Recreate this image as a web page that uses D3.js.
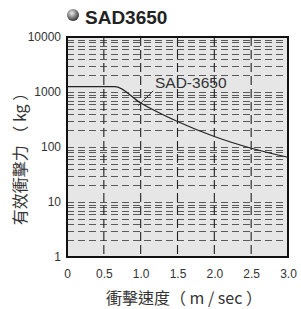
<!DOCTYPE html>
<html>
<head>
<meta charset="utf-8">
<script src="https://cdn.jsdelivr.net/npm/d3@7"></script>
<style>
  body { margin: 0; background: #fff; }
  text { font-family: "Liberation Sans", Arial, sans-serif; }
</style>
</head>
<body>
<div id="chart"></div>
<script>
// values
let speeds = [0, 0.65, 1.0, 1.5, 2.0, 2.5, 3.0];
let forces = [1250, 1250, 630, 290, 155, 95, 65];
let xTicks = [0, 0.5, 1.0, 1.5, 2.0, 2.5, 3.0];
let yTicks = [1, 10, 100, 1000, 10000];
let seriesName = "SAD-3650";
let title = "SAD3650";

let w = 301, h = 309;
let pLeft = 67, pRight = 288, pTop = 37, pBottom = 257;

let svg = d3.select("#chart")
    .append("svg")
    .attr("width", w)
    .attr("height", h);

let x = d3.scaleLinear().domain([0, 3]).range([pLeft, pRight]);
let y = d3.scaleLog().domain([1, 10000]).range([pBottom, pTop]);

// plot background
svg.append("rect")
    .attr("x", pLeft).attr("y", pTop)
    .attr("width", pRight - pLeft).attr("height", pBottom - pTop)
    .style("fill", "#e6e6e6");

// horizontal grid: every 1..9 in each decade
let minor = [];
for (let d = 1; d < 10000; d *= 10) {
    for (let k = 1; k < 10; k++) {
        if (d * k > 1) minor.push(d * k);
    }
}
svg.append("g").selectAll("line")
    .data(minor)
    .enter()
    .append("line")
    .attr("x1", pLeft).attr("x2", pRight)
    .attr("y1", function(d){ return Math.round(y(d)) + 0.5; })
    .attr("y2", function(d){ return Math.round(y(d)) + 0.5; })
    .style("stroke", "#5a5a5a")
    .style("stroke-width", 1)
    .style("stroke-dasharray", "7,4");

// vertical grid
svg.append("g").selectAll("line")
    .data(xTicks.slice(1, -1))
    .enter()
    .append("line")
    .attr("x1", function(d){ return x(d); })
    .attr("x2", function(d){ return x(d); })
    .attr("y1", pTop).attr("y2", pBottom)
    .style("stroke", "#222")
    .style("stroke-width", 1.1)
    .style("stroke-dasharray", "9,4");

// frame
svg.append("rect")
    .attr("x", pLeft).attr("y", pTop)
    .attr("width", pRight - pLeft).attr("height", pBottom - pTop)
    .style("fill", "none")
    .style("stroke", "#111")
    .style("stroke-width", 2);

// axes
let xAxis = svg.append("g")
    .attr("transform", "translate(0," + (pBottom + 9) + ")")
    .call(d3.axisBottom(x).tickValues(xTicks).tickSize(0)
        .tickFormat(function(d){ return d === 0 ? "0" : d3.format(".1f")(d); }));
let yAxis = svg.append("g")
    .attr("transform", "translate(" + (pLeft - 3) + ",0)")
    .call(d3.axisLeft(y).tickValues(yTicks).tickSize(0)
        .tickFormat(d3.format("d")));
[xAxis, yAxis].forEach(function(a){
    a.select(".domain").remove();
    a.selectAll("text")
        .style("font-size", "12px")
        .style("fill", "#333")
        .style("font-family", "'Liberation Sans', Arial, sans-serif");
});

// the curve
let line = d3.line()
    .x(function(d){ return x(d[0]); })
    .y(function(d){ return y(d[1]); })
    .curve(d3.curveMonotoneX);
svg.append("path")
    .datum(d3.zip(speeds, forces))
    .attr("d", line)
    .style("fill", "none")
    .style("stroke", "#222")
    .style("stroke-width", 1.2);

// series label with leader
svg.append("line")
    .attr("x1", x(0.97)).attr("y1", y(570))
    .attr("x2", x(1.17)).attr("y2", y(1050))
    .style("stroke", "#333")
    .style("stroke-width", 1);
svg.append("text")
    .attr("x", 155).attr("y", 88)
    .text(seriesName)
    .style("font-size", "15.5px")
    .style("fill", "#333");

// title
let grad = svg.append("defs").append("radialGradient")
    .attr("id", "ball").attr("cx", "40%").attr("cy", "35%").attr("r", "65%");
grad.append("stop").attr("offset", "0%").attr("stop-color", "#eee");
grad.append("stop").attr("offset", "100%").attr("stop-color", "#333");
svg.append("circle")
    .attr("cx", 73).attr("cy", 15).attr("r", 6)
    .style("fill", "url(#ball)");
svg.append("text")
    .attr("x", 85).attr("y", 24)
    .text(title)
    .style("font-size", "19px")
    .style("font-weight", "bold")
    .style("fill", "#222");

// axis titles
svg.append("text")
    .attr("x", 184).attr("y", 304)
    .attr("text-anchor", "middle")
    .text("衝擊速度（ m / sec ）")
    .style("font-family", "'Noto Sans CJK TC', sans-serif")
    .style("font-size", "16px")
    .style("fill", "#333");
svg.append("text")
    .attr("transform", "translate(26,155) rotate(-90)")
    .attr("text-anchor", "middle")
    .text("有效衝擊力 （ kg ）")
    .style("font-family", "'Noto Sans CJK TC', sans-serif")
    .style("font-size", "16px")
    .style("fill", "#333");
</script>
</body>
</html>
